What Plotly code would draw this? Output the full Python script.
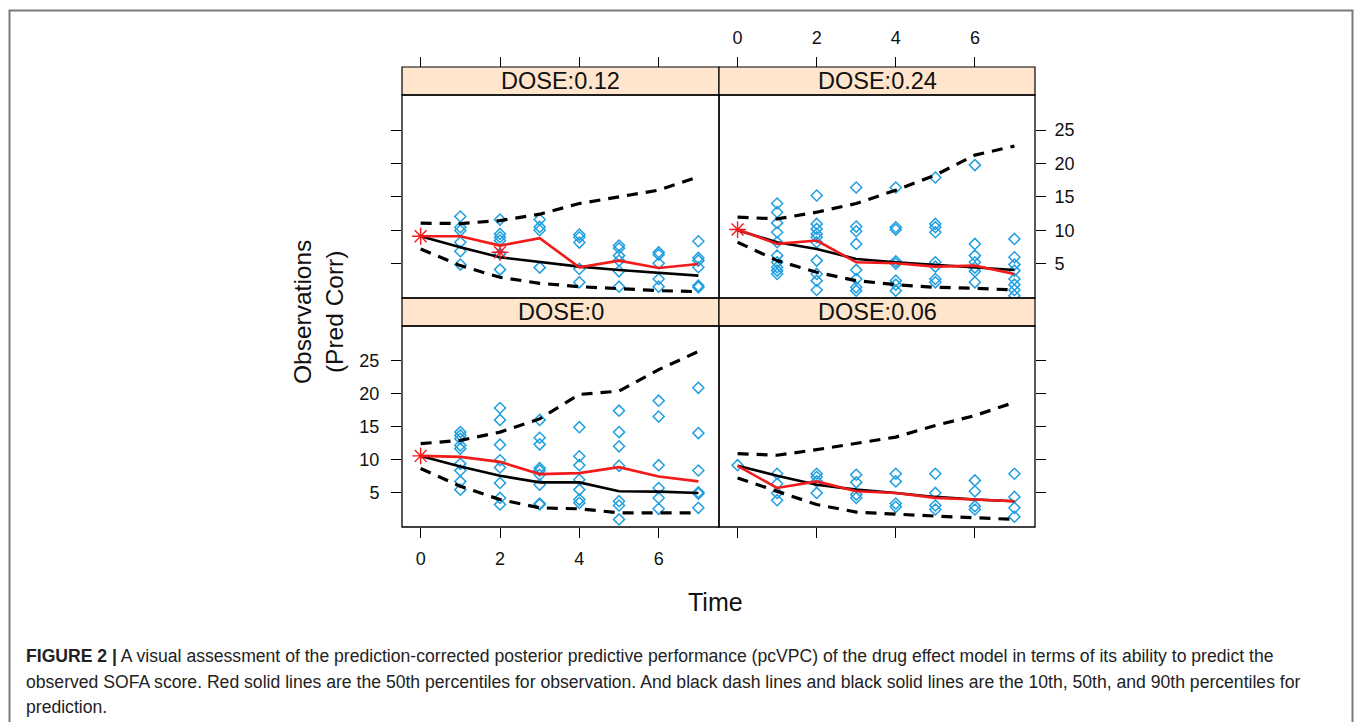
import plotly.graph_objects as go

W, H = 1355, 722

# ---------------- data ----------------
times = [0, 1, 2, 3, 4, 5, 6, 7]
panel_labels = ["DOSE:0", "DOSE:0.06", "DOSE:0.12", "DOSE:0.24"]
x_ticks = [0, 2, 4, 6]
y_ticks = [5, 10, 15, 20, 25]

# observed points (time -> values), one dict per dose
obs_dose0 = {
    1: [14.2, 13.7, 13.2, 12.2, 11.7, 9.4, 8.4, 6.75, 5.5],
    2: [17.85, 16.05, 12.3, 9.95, 8.85, 6.5, 4.25, 3.25],
    3: [16.05, 13.35, 12.35, 8.75, 8.4, 7.75, 6.25, 3.4, 3.25],
    4: [14.95, 10.55, 9.2, 7.0, 5.5, 4.0, 3.5],
    5: [17.45, 14.2, 12.05, 9.1, 3.75, 3.1, 1.0],
    6: [18.95, 16.55, 9.2, 5.75, 4.25, 2.6],
    7: [20.9, 14.05, 8.4, 5.1, 4.9, 2.75],
}
obs_dose006 = {
    0: [9.2],
    1: [7.9, 6.4, 5.0, 3.9],
    2: [7.9, 7.4, 6.75, 5.0],
    3: [7.75, 6.6, 4.75, 4.25],
    4: [7.9, 6.75, 3.4, 2.9],
    5: [7.9, 5.0, 3.1, 2.5],
    6: [6.9, 5.25, 3.0, 2.5],
    7: [7.9, 4.4, 2.75, 1.4],
}
obs_dose012 = {
    1: [12.05, 10.45, 9.95, 8.2, 6.85, 4.85],
    2: [11.6, 9.45, 8.95, 8.45, 6.45, 4.1],
    3: [11.6, 10.5, 10.0, 4.4],
    4: [9.35, 8.95, 8.15, 4.2, 2.2],
    5: [7.7, 7.3, 6.2, 5.45, 3.85, 1.55],
    6: [6.7, 6.35, 5.05, 2.7, 1.55],
    7: [8.35, 5.85, 5.45, 4.45, 1.7, 1.45],
}
obs_dose024 = {
    1: [14.0, 12.7, 11.1, 9.7, 8.2, 6.2, 5.2, 4.45, 3.95, 3.45],
    2: [15.2, 10.95, 10.2, 9.45, 8.95, 8.2, 5.45, 3.45, 2.45, 1.05],
    3: [16.4, 10.55, 9.85, 7.95, 4.05, 2.7, 1.45, 0.95],
    4: [16.4, 10.45, 10.1, 5.35, 5.0, 2.45, 1.85, 0.95],
    5: [17.9, 10.95, 10.45, 9.7, 5.2, 4.55, 2.7, 2.2],
    6: [19.75, 7.95, 6.2, 5.2, 4.4, 3.85, 2.2],
    7: [8.7, 5.95, 4.85, 3.95, 2.7, 1.85, 1.05, 0.2],
}

# observed median (red)
obs50_dose0 = [10.6, 10.45, 9.7, 7.85, 8.0, 8.9, 7.5, 6.75]
obs50_dose006 = [9.1, 5.75, 6.75, 5.25, 5.0, 4.25, 4.0, 3.75]
obs50_dose012 = [9.1, 9.1, 7.7, 8.8, 4.45, 5.45, 4.35, 4.95]
obs50_dose024 = [10.1, 7.95, 8.45, 5.2, 5.05, 4.55, 4.7, 3.45]

# predicted percentiles (black)
pred50_dose0 = [10.6, 9.0, 7.6, 6.6, 6.6, 5.25, 5.2, 5.0]
pred10_dose0 = [8.7, 6.0, 4.0, 2.75, 2.6, 2.0, 2.0, 2.0]
pred90_dose0 = [12.45, 12.95, 14.2, 16.2, 19.9, 20.4, 23.65, 26.4]

pred50_dose006 = [9.1, 7.6, 6.25, 5.5, 5.0, 4.4, 4.0, 3.75]
pred10_dose006 = [7.25, 5.25, 3.25, 2.1, 1.75, 1.5, 1.25, 1.0]
pred90_dose006 = [10.95, 10.7, 11.55, 12.45, 13.45, 15.2, 16.7, 18.7]

pred50_dose012 = [9.1, 7.45, 5.95, 5.2, 4.55, 4.05, 3.65, 3.2]
pred10_dose012 = [7.2, 4.7, 2.95, 2.05, 1.55, 1.2, 0.95, 0.8]
pred90_dose012 = [11.05, 11.0, 11.45, 12.4, 14.0, 15.0, 16.0, 18.0]

pred50_dose024 = [10.0, 8.2, 7.2, 5.7, 5.2, 4.85, 4.45, 4.05]
pred10_dose024 = [8.2, 5.45, 3.7, 2.45, 1.85, 1.45, 1.3, 1.05]
pred90_dose024 = [11.95, 11.7, 12.7, 14.0, 16.0, 18.25, 21.25, 22.6]

# red asterisk markers (time, value)
star_t_dose0, star_v_dose0 = [0], [10.6]
star_t_dose006, star_v_dose006 = [], []
star_t_dose012, star_v_dose012 = [0, 2], [9.1, 6.7]
star_t_dose024, star_v_dose024 = [0], [10.1]

panels = [
    ("x", "y", obs_dose0, obs50_dose0, pred10_dose0, pred50_dose0, pred90_dose0, star_t_dose0, star_v_dose0),
    ("x2", "y2", obs_dose006, obs50_dose006, pred10_dose006, pred50_dose006, pred90_dose006, star_t_dose006, star_v_dose006),
    ("x3", "y3", obs_dose012, obs50_dose012, pred10_dose012, pred50_dose012, pred90_dose012, star_t_dose012, star_v_dose012),
    ("x4", "y4", obs_dose024, obs50_dose024, pred10_dose024, pred50_dose024, pred90_dose024, star_t_dose024, star_v_dose024),
]

BLUE = "#1f9fe0"
RED = "#f21a1a"

fig = go.Figure()
for xa, ya, obs, o50, p10, p50, p90, st, sv in panels:
    ox, oy = [], []
    for t, vals in obs.items():
        ox += [t] * len(vals)
        oy += vals
    fig.add_trace(go.Scatter(x=ox, y=oy, mode="markers", xaxis=xa, yaxis=ya,
                             marker=dict(symbol="diamond-open", size=8.5, color=BLUE,
                                         line=dict(width=1.5, color=BLUE)),
                             showlegend=False, hoverinfo="skip"))
    for p in (p10, p90):
        fig.add_trace(go.Scatter(x=times, y=p, mode="lines", xaxis=xa, yaxis=ya,
                                 line=dict(color="black", width=3.2, dash="11px,8px"),
                                 showlegend=False, hoverinfo="skip"))
    fig.add_trace(go.Scatter(x=times, y=p50, mode="lines", xaxis=xa, yaxis=ya,
                             line=dict(color="black", width=2.6),
                             showlegend=False, hoverinfo="skip"))
    fig.add_trace(go.Scatter(x=times, y=o50, mode="lines", xaxis=xa, yaxis=ya,
                             line=dict(color=RED, width=2.6),
                             showlegend=False, hoverinfo="skip"))
    if st:
        fig.add_trace(go.Scatter(x=st, y=sv, mode="markers", xaxis=xa, yaxis=ya,
                                 marker=dict(symbol="asterisk-open", size=14, color=RED,
                                             line=dict(width=1.4, color=RED)),
                                 showlegend=False, hoverinfo="skip"))

# ---------------- layout geometry (screen pixels -> paper) ----------------
def px(x):
    return x / W

def py(y):
    return 1 - y / H

colL = [px(402), px(719)]
colR = [px(719), px(1035)]
rowB = [py(527), py(326)]
rowT = [py(298), py(95)]
strip_top_T = 67
strip_top_B = 298

XR = [-0.47, 7.52]
YR = [-0.15, 30.25]
tickfont = dict(family="Arial, Liberation Sans", size=18, color="#111")

common_x = dict(range=XR, tickvals=x_ticks, ticks="outside", ticklen=10, tickwidth=1.2,
                tickcolor="black", showgrid=False, zeroline=False, showline=False,
                tickfont=tickfont)
common_y = dict(range=YR, tickvals=y_ticks, ticks="outside", ticklen=10, tickwidth=1.2,
                tickcolor="black", showgrid=False, zeroline=False, showline=False,
                tickfont=tickfont)

fig.update_layout(
    width=W, height=H,
    margin=dict(l=0, r=0, t=0, b=0),
    paper_bgcolor="white", plot_bgcolor="white",
    showlegend=False,
    xaxis=dict(domain=colL, anchor="y", side="bottom", showticklabels=True,
               ticklabelstandoff=5, **common_x),
    xaxis2=dict(domain=colR, anchor="y2", side="bottom", showticklabels=False, **common_x),
    xaxis3=dict(domain=colL, anchor="free", position=py(strip_top_T), side="top",
                showticklabels=False, **common_x),
    xaxis4=dict(domain=colR, anchor="free", position=py(strip_top_T), side="top",
                showticklabels=True, ticklabelstandoff=6, **common_x),
    yaxis=dict(domain=rowB, anchor="x", side="left", showticklabels=True,
               ticklabelstandoff=8, **common_y),
    yaxis2=dict(domain=rowB, anchor="x2", side="right", showticklabels=False, **common_y),
    yaxis3=dict(domain=rowT, anchor="x3", side="left", showticklabels=False, **common_y),
    yaxis4=dict(domain=rowT, anchor="x4", side="right", showticklabels=True,
                ticklabelstandoff=5, **common_y),
)

shapes = []
# outer grey frame
shapes.append(dict(type="rect", xref="paper", yref="paper",
                   x0=px(9.5), x1=px(1352.5), y0=-0.05, y1=py(10.5),
                   line=dict(color="#7a7a7a", width=2), fillcolor="rgba(0,0,0,0)", layer="below"))

strip_info = [
    (colL, strip_top_B, 326, panel_labels[0]),
    (colR, strip_top_B, 326, panel_labels[1]),
    (colL, strip_top_T, 95, panel_labels[2]),
    (colR, strip_top_T, 95, panel_labels[3]),
]
annotations = []
for col, y0s, y1s, lab in strip_info:
    shapes.append(dict(type="rect", xref="paper", yref="paper",
                       x0=col[0], x1=col[1], y0=py(y1s), y1=py(y0s),
                       line=dict(color="black", width=1.2), fillcolor="#ffe5cc", layer="above"))
    annotations.append(dict(xref="paper", yref="paper", x=(col[0] + col[1]) / 2,
                            y=py((y0s + y1s) / 2), text=lab, showarrow=False,
                            xanchor="center", yanchor="middle",
                            font=dict(family="Arial, Liberation Sans", size=23.5, color="#111")))

# panel frames
for col, row in [(colL, rowB), (colR, rowB), (colL, rowT), (colR, rowT)]:
    shapes.append(dict(type="rect", xref="paper", yref="paper",
                       x0=col[0], x1=col[1], y0=row[0], y1=row[1],
                       line=dict(color="black", width=1.3), fillcolor="rgba(0,0,0,0)", layer="above"))

# axis titles
annotations.append(dict(xref="paper", yref="paper", x=px(318), y=py(312),
                        text="Observations<br>(Pred Corr)", showarrow=False, textangle=-90,
                        xanchor="center", yanchor="middle",
                        font=dict(family="Arial, Liberation Sans", size=24.5, color="#111")))
annotations.append(dict(xref="paper", yref="paper", x=px(716), y=py(602),
                        text="Time", showarrow=False, xanchor="center", yanchor="middle",
                        font=dict(family="Arial, Liberation Sans", size=25, color="#111")))

# caption
caption_lines = [
    "<b>FIGURE 2 |</b> A visual assessment of the prediction-corrected posterior predictive performance (pcVPC) of the drug effect model in terms of its ability to predict the",
    "observed SOFA score. Red solid lines are the 50th percentiles for observation. And black dash lines and black solid lines are the 10th, 50th, and 90th percentiles for",
    "prediction.",
]
for i, line in enumerate(caption_lines):
    annotations.append(dict(xref="paper", yref="paper", x=px(24), y=py(656 + 25.5 * i),
                            text=line, showarrow=False, xanchor="left", yanchor="middle",
                            font=dict(family="Arial, Liberation Sans", size=17.6, color="#222")))

fig.update_layout(shapes=shapes, annotations=annotations)
fig.write_html("out.html", config={"displayModeBar": False},
               post_script="document.body.style.margin='0';document.body.style.overflow='hidden';")
